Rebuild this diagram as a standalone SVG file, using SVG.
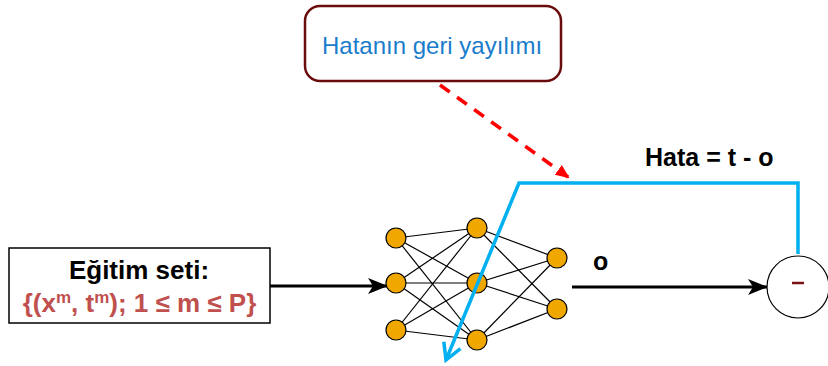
<svg xmlns="http://www.w3.org/2000/svg" width="828" height="366" viewBox="0 0 828 366">
<defs>
<marker id="ab" markerWidth="20" markerHeight="16" refX="19" refY="8" orient="auto" markerUnits="userSpaceOnUse" viewBox="0 0 20 16"><path d="M0,0 L20,8 L0,16 L5,8 Z" fill="#000"/></marker>
<marker id="ar" markerWidth="14" markerHeight="14" refX="12" refY="7" orient="auto" markerUnits="userSpaceOnUse" viewBox="0 0 14 14"><path d="M0,1 L14,7 L0,13 Z" fill="#ff0000"/></marker>
<marker id="abl" markerWidth="22" markerHeight="22" refX="18" refY="11" orient="auto" markerUnits="userSpaceOnUse" viewBox="0 0 22 22"><path d="M2,2 L18,11 L2,20" fill="none" stroke="#00b0f0" stroke-width="3.5"/></marker>
<style>
.n{fill:#f0a800;stroke:#000;stroke-width:1.2}
.w{stroke:#000;stroke-width:1.2}
.b{font-family:"Liberation Sans",Arial,sans-serif;font-weight:bold}
</style>
</defs>
<g id="connectors">
<g class="w">
<line x1="396" y1="238" x2="477" y2="228"/><line x1="396" y1="238" x2="477" y2="283"/><line x1="396" y1="238" x2="477" y2="340"/>
<line x1="396" y1="283" x2="477" y2="228"/><line x1="396" y1="283" x2="477" y2="283"/><line x1="396" y1="283" x2="477" y2="340"/>
<line x1="396" y1="330" x2="477" y2="228"/><line x1="396" y1="330" x2="477" y2="283"/><line x1="396" y1="330" x2="477" y2="340"/>
<line x1="477" y1="228" x2="557" y2="258"/><line x1="477" y1="228" x2="557" y2="309"/>
<line x1="477" y1="283" x2="557" y2="258"/><line x1="477" y1="283" x2="557" y2="309"/>
<line x1="477" y1="340" x2="557" y2="258"/><line x1="477" y1="340" x2="557" y2="309"/>
</g>
<line x1="270" y1="286" x2="387" y2="286" stroke="#000" stroke-width="3" marker-end="url(#ab)"/>
<line x1="572" y1="287" x2="767" y2="287" stroke="#000" stroke-width="3" marker-end="url(#ab)"/>
<line x1="440" y1="85" x2="568" y2="177" stroke="#ff0000" stroke-width="3.5" stroke-dasharray="12,9" marker-end="url(#ar)"/>
</g>
<g id="layer1"><circle class="n" cx="396" cy="238" r="10"/><circle class="n" cx="396" cy="283" r="10"/><circle class="n" cx="396" cy="330" r="10"/></g>
<g id="layer2"><circle class="n" cx="477" cy="228" r="10"/><circle class="n" cx="477" cy="283" r="10"/><circle class="n" cx="477" cy="340" r="10"/></g>
<g id="layer3"><circle class="n" cx="557" cy="258" r="10"/><circle class="n" cx="557" cy="309" r="10"/></g>
<g id="error-path">
<polyline points="798,254 798,183 519,183 446,360" fill="none" stroke="#00b0f0" stroke-width="3.5" marker-end="url(#abl)"/>
</g>
<g id="training-set">
<rect x="9" y="248" width="261" height="75" fill="#fff" stroke="#000" stroke-width="1.5"/>
<text x="139" y="279" class="b" font-size="26" text-anchor="middle" fill="#000">Eğitim seti:</text>
<text x="139.5" y="312" class="b" font-size="26" text-anchor="middle" fill="#c0504d">{(x<tspan font-size="17" dy="-9">m</tspan><tspan dy="9">, t</tspan><tspan font-size="17" dy="-9">m</tspan><tspan dy="9">); 1 ≤ m ≤ P}</tspan></text>
</g>
<g id="backprop-label">
<rect x="305" y="6" width="256" height="75" rx="15" fill="#fff" stroke="#6b0c0c" stroke-width="2.5"/>
<text x="432" y="54" font-family="Liberation Sans,Arial,sans-serif" font-size="24" text-anchor="middle" fill="#1a7dcc">Hatanın geri yayılımı</text>
</g>
<g id="subtract">
<circle cx="798" cy="287" r="31" fill="#fff" stroke="#000" stroke-width="1.2"/>
<line x1="792" y1="283" x2="804" y2="283" stroke="#7b1010" stroke-width="2.5"/>
</g>
<text x="645" y="166" class="b" font-size="25" fill="#000">Hata = t - o</text>
<text x="593" y="270" class="b" font-size="25" fill="#000">o</text>
</svg>
